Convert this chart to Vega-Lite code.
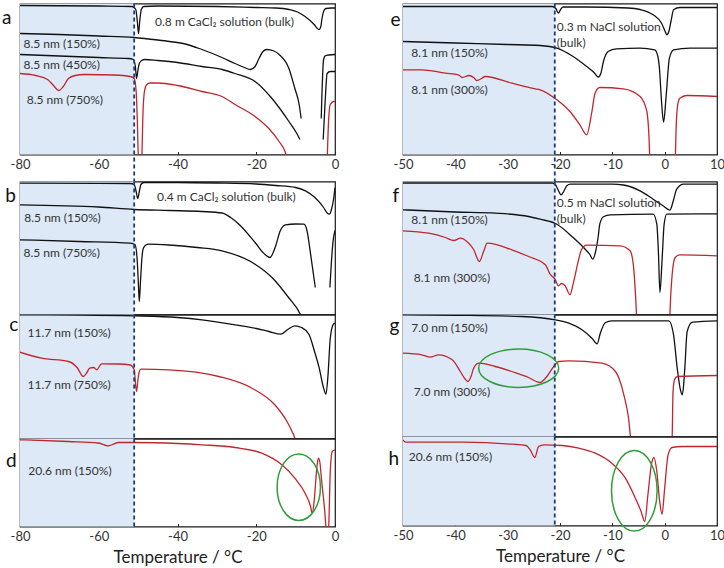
{
  "$schema": "https://vega.github.io/schema/vega-lite/v6.json",
  "padding": {"left": 0, "top": 1.5, "right": 0, "bottom": 0},
  "background": "white",
  "config": {
    "font": "Lato",
    "view": {"stroke": "#1a1a1a", "strokeWidth": 1.2},
    "axis": {"grid": false, "domain": false, "zindex": 1, "labelFont": "Lato", "labelFontSize": 13, "labelColor": "#333", "tickColor": "#222", "tickWidth": 1, "titleFont": "Lato", "titleFontWeight": "normal"}
  },
  "datasets": {
    "curves": [
      {"panel":"a","trace":"a-bulk","seg":1,"T":-80,"hf":4},{"panel":"a","trace":"a-bulk","seg":1,"T":-60,"hf":4.5},{"panel":"a","trace":"a-bulk","seg":1,"T":-51.5,"hf":5},{"panel":"a","trace":"a-bulk","seg":1,"T":-50.6,"hf":8},{"panel":"a","trace":"a-bulk","seg":1,"T":-50.2,"hf":20},{"panel":"a","trace":"a-bulk","seg":1,"T":-49.9,"hf":32},{"panel":"a","trace":"a-bulk","seg":1,"T":-49.6,"hf":20},{"panel":"a","trace":"a-bulk","seg":1,"T":-49.2,"hf":8},{"panel":"a","trace":"a-bulk","seg":1,"T":-48.6,"hf":5},{"panel":"a","trace":"a-bulk","seg":1,"T":-45,"hf":4.5},{"panel":"a","trace":"a-bulk","seg":1,"T":-30,"hf":5},{"panel":"a","trace":"a-bulk","seg":1,"T":-20,"hf":6},{"panel":"a","trace":"a-bulk","seg":1,"T":-15,"hf":6.5},{"panel":"a","trace":"a-bulk","seg":1,"T":-11.7,"hf":8},{"panel":"a","trace":"a-bulk","seg":1,"T":-9.5,"hf":10.5},{"panel":"a","trace":"a-bulk","seg":1,"T":-7.6,"hf":15},{"panel":"a","trace":"a-bulk","seg":1,"T":-5.3,"hf":23},{"panel":"a","trace":"a-bulk","seg":1,"T":-4.6,"hf":26.5},{"panel":"a","trace":"a-bulk","seg":1,"T":-4.0,"hf":28},{"panel":"a","trace":"a-bulk","seg":1,"T":-3.6,"hf":25},{"panel":"a","trace":"a-bulk","seg":1,"T":-3.3,"hf":17},{"panel":"a","trace":"a-bulk","seg":1,"T":-2.8,"hf":9},{"panel":"a","trace":"a-bulk","seg":1,"T":-2.3,"hf":7},{"panel":"a","trace":"a-bulk","seg":1,"T":-1,"hf":6.5},{"panel":"a","trace":"a-bulk","seg":1,"T":0,"hf":6.5},

      {"panel":"a","trace":"a-150","seg":1,"T":-80,"hf":32},{"panel":"a","trace":"a-150","seg":1,"T":-70,"hf":33},{"panel":"a","trace":"a-150","seg":1,"T":-60,"hf":34.5},{"panel":"a","trace":"a-150","seg":1,"T":-51,"hf":36},{"panel":"a","trace":"a-150","seg":1,"T":-45,"hf":38.5},{"panel":"a","trace":"a-150","seg":1,"T":-42,"hf":40},{"panel":"a","trace":"a-150","seg":1,"T":-38,"hf":42.5},{"panel":"a","trace":"a-150","seg":1,"T":-33.8,"hf":48},{"panel":"a","trace":"a-150","seg":1,"T":-28.7,"hf":56},{"panel":"a","trace":"a-150","seg":1,"T":-25.4,"hf":62},{"panel":"a","trace":"a-150","seg":1,"T":-23,"hf":66},{"panel":"a","trace":"a-150","seg":1,"T":-21.5,"hf":68},{"panel":"a","trace":"a-150","seg":1,"T":-20.3,"hf":65},{"panel":"a","trace":"a-150","seg":1,"T":-19.3,"hf":57},{"panel":"a","trace":"a-150","seg":1,"T":-18.3,"hf":50},{"panel":"a","trace":"a-150","seg":1,"T":-17.3,"hf":48},{"panel":"a","trace":"a-150","seg":1,"T":-15.5,"hf":49.5},{"panel":"a","trace":"a-150","seg":1,"T":-14.2,"hf":53},{"panel":"a","trace":"a-150","seg":1,"T":-11.7,"hf":67},{"panel":"a","trace":"a-150","seg":1,"T":-10.2,"hf":87},{"panel":"a","trace":"a-150","seg":1,"T":-9.1,"hf":103},{"panel":"a","trace":"a-150","seg":1,"T":-8.6,"hf":117},
      {"panel":"a","trace":"a-150","seg":2,"T":-3.5,"hf":117},{"panel":"a","trace":"a-150","seg":2,"T":-2.9,"hf":58},{"panel":"a","trace":"a-150","seg":2,"T":-2.5,"hf":54.3},{"panel":"a","trace":"a-150","seg":2,"T":-1.5,"hf":53.5},{"panel":"a","trace":"a-150","seg":2,"T":0,"hf":53},

      {"panel":"a","trace":"a-450","seg":1,"T":-80,"hf":53},{"panel":"a","trace":"a-450","seg":1,"T":-70,"hf":54.5},{"panel":"a","trace":"a-450","seg":1,"T":-60,"hf":56},{"panel":"a","trace":"a-450","seg":1,"T":-52.5,"hf":57},{"panel":"a","trace":"a-450","seg":1,"T":-51.2,"hf":58},{"panel":"a","trace":"a-450","seg":1,"T":-50.7,"hf":65},{"panel":"a","trace":"a-450","seg":1,"T":-50.4,"hf":77},{"panel":"a","trace":"a-450","seg":1,"T":-50.1,"hf":70},{"panel":"a","trace":"a-450","seg":1,"T":-49.7,"hf":62},{"panel":"a","trace":"a-450","seg":1,"T":-49.1,"hf":59},{"panel":"a","trace":"a-450","seg":1,"T":-48.3,"hf":58},{"panel":"a","trace":"a-450","seg":1,"T":-45,"hf":59},{"panel":"a","trace":"a-450","seg":1,"T":-40,"hf":61},{"panel":"a","trace":"a-450","seg":1,"T":-33.8,"hf":65},{"panel":"a","trace":"a-450","seg":1,"T":-28.7,"hf":68},{"panel":"a","trace":"a-450","seg":1,"T":-25.4,"hf":72},{"panel":"a","trace":"a-450","seg":1,"T":-20.3,"hf":80},{"panel":"a","trace":"a-450","seg":1,"T":-16,"hf":97},{"panel":"a","trace":"a-450","seg":1,"T":-11.7,"hf":120},{"panel":"a","trace":"a-450","seg":1,"T":-9.7,"hf":132},{"panel":"a","trace":"a-450","seg":1,"T":-8.9,"hf":138},
      {"panel":"a","trace":"a-450","seg":2,"T":-3.0,"hf":138},{"panel":"a","trace":"a-450","seg":2,"T":-2.5,"hf":100},{"panel":"a","trace":"a-450","seg":2,"T":-2.0,"hf":72},{"panel":"a","trace":"a-450","seg":2,"T":-1.2,"hf":70},{"panel":"a","trace":"a-450","seg":2,"T":0,"hf":70},

      {"panel":"a","trace":"a-750","seg":1,"T":-80,"hf":72},{"panel":"a","trace":"a-750","seg":1,"T":-76,"hf":74},{"panel":"a","trace":"a-750","seg":1,"T":-73,"hf":78},{"panel":"a","trace":"a-750","seg":1,"T":-71.5,"hf":84},{"panel":"a","trace":"a-750","seg":1,"T":-70.2,"hf":89},{"panel":"a","trace":"a-750","seg":1,"T":-69,"hf":85},{"panel":"a","trace":"a-750","seg":1,"T":-67.7,"hf":77},{"panel":"a","trace":"a-750","seg":1,"T":-66,"hf":74},{"panel":"a","trace":"a-750","seg":1,"T":-63.6,"hf":73},{"panel":"a","trace":"a-750","seg":1,"T":-56,"hf":73.5},{"panel":"a","trace":"a-750","seg":1,"T":-52,"hf":75},{"panel":"a","trace":"a-750","seg":1,"T":-51,"hf":77},{"panel":"a","trace":"a-750","seg":1,"T":-50.5,"hf":90},{"panel":"a","trace":"a-750","seg":1,"T":-50.2,"hf":120},{"panel":"a","trace":"a-750","seg":1,"T":-49.9,"hf":165},{"panel":"a","trace":"a-750","seg":1,"T":-49.5,"hf":200},{"panel":"a","trace":"a-750","seg":1,"T":-49.1,"hf":165},{"panel":"a","trace":"a-750","seg":1,"T":-48.8,"hf":115},{"panel":"a","trace":"a-750","seg":1,"T":-48.4,"hf":90},{"panel":"a","trace":"a-750","seg":1,"T":-47.8,"hf":83},{"panel":"a","trace":"a-750","seg":1,"T":-47,"hf":81.5},{"panel":"a","trace":"a-750","seg":1,"T":-45,"hf":81.5},{"panel":"a","trace":"a-750","seg":1,"T":-40,"hf":84},{"panel":"a","trace":"a-750","seg":1,"T":-33.8,"hf":90},{"panel":"a","trace":"a-750","seg":1,"T":-28.7,"hf":95},{"panel":"a","trace":"a-750","seg":1,"T":-25.4,"hf":103},{"panel":"a","trace":"a-750","seg":1,"T":-20.3,"hf":115},{"panel":"a","trace":"a-750","seg":1,"T":-16.8,"hf":127},{"panel":"a","trace":"a-750","seg":1,"T":-14.2,"hf":140},{"panel":"a","trace":"a-750","seg":1,"T":-12.7,"hf":150},{"panel":"a","trace":"a-750","seg":1,"T":-12,"hf":160},{"panel":"a","trace":"a-750","seg":1,"T":-7,"hf":200},{"panel":"a","trace":"a-750","seg":1,"T":-2.5,"hf":200},{"panel":"a","trace":"a-750","seg":1,"T":-2.0,"hf":160},{"panel":"a","trace":"a-750","seg":1,"T":-1.7,"hf":125},{"panel":"a","trace":"a-750","seg":1,"T":-1.2,"hf":103},{"panel":"a","trace":"a-750","seg":1,"T":-0.3,"hf":100},{"panel":"a","trace":"a-750","seg":1,"T":0,"hf":100},

      {"panel":"b","trace":"b-bulk","seg":1,"T":-80,"hf":181.7},{"panel":"b","trace":"b-bulk","seg":1,"T":-60,"hf":181.8},{"panel":"b","trace":"b-bulk","seg":1,"T":-52,"hf":182},{"panel":"b","trace":"b-bulk","seg":1,"T":-51,"hf":183},{"panel":"b","trace":"b-bulk","seg":1,"T":-50.5,"hf":190},{"panel":"b","trace":"b-bulk","seg":1,"T":-50.1,"hf":197},{"panel":"b","trace":"b-bulk","seg":1,"T":-49.7,"hf":190},{"panel":"b","trace":"b-bulk","seg":1,"T":-49.3,"hf":183},{"panel":"b","trace":"b-bulk","seg":1,"T":-48.5,"hf":181},{"panel":"b","trace":"b-bulk","seg":1,"T":-40,"hf":181},{"panel":"b","trace":"b-bulk","seg":1,"T":-30,"hf":181.5},{"panel":"b","trace":"b-bulk","seg":1,"T":-20,"hf":182.5},{"panel":"b","trace":"b-bulk","seg":1,"T":-15,"hf":184},{"panel":"b","trace":"b-bulk","seg":1,"T":-10,"hf":186},{"panel":"b","trace":"b-bulk","seg":1,"T":-7.5,"hf":189.3},{"panel":"b","trace":"b-bulk","seg":1,"T":-5.1,"hf":196},{"panel":"b","trace":"b-bulk","seg":1,"T":-2.9,"hf":206},{"panel":"b","trace":"b-bulk","seg":1,"T":-2.0,"hf":211.5},{"panel":"b","trace":"b-bulk","seg":1,"T":-1.4,"hf":212.7},{"panel":"b","trace":"b-bulk","seg":1,"T":-0.9,"hf":208},{"panel":"b","trace":"b-bulk","seg":1,"T":-0.3,"hf":196},{"panel":"b","trace":"b-bulk","seg":1,"T":0,"hf":186},

      {"panel":"b","trace":"b-150","seg":1,"T":-80,"hf":203.3},{"panel":"b","trace":"b-150","seg":1,"T":-60,"hf":205.5},{"panel":"b","trace":"b-150","seg":1,"T":-51,"hf":208},{"panel":"b","trace":"b-150","seg":1,"T":-42,"hf":209},{"panel":"b","trace":"b-150","seg":1,"T":-33.8,"hf":210},{"panel":"b","trace":"b-150","seg":1,"T":-28.7,"hf":211.5},{"panel":"b","trace":"b-150","seg":1,"T":-26.5,"hf":216},{"panel":"b","trace":"b-150","seg":1,"T":-24.4,"hf":222.7},{"panel":"b","trace":"b-150","seg":1,"T":-20.3,"hf":241},{"panel":"b","trace":"b-150","seg":1,"T":-18.3,"hf":251},{"panel":"b","trace":"b-150","seg":1,"T":-16.5,"hf":256},{"panel":"b","trace":"b-150","seg":1,"T":-15.2,"hf":246},{"panel":"b","trace":"b-150","seg":1,"T":-13.9,"hf":229.3},{"panel":"b","trace":"b-150","seg":1,"T":-12.6,"hf":223.3},{"panel":"b","trace":"b-150","seg":1,"T":-10,"hf":222.5},{"panel":"b","trace":"b-150","seg":1,"T":-7.9,"hf":222.7},{"panel":"b","trace":"b-150","seg":1,"T":-7.1,"hf":229.3},{"panel":"b","trace":"b-150","seg":1,"T":-6.2,"hf":252.7},{"panel":"b","trace":"b-150","seg":1,"T":-5.0,"hf":286},
      {"panel":"b","trace":"b-150","seg":2,"T":-1.3,"hf":286},{"panel":"b","trace":"b-150","seg":2,"T":-0.9,"hf":260},{"panel":"b","trace":"b-150","seg":2,"T":-0.5,"hf":240},{"panel":"b","trace":"b-150","seg":2,"T":0,"hf":229},

      {"panel":"b","trace":"b-750","seg":1,"T":-80,"hf":238.3},{"panel":"b","trace":"b-750","seg":1,"T":-65,"hf":240},{"panel":"b","trace":"b-750","seg":1,"T":-52,"hf":241.7},{"panel":"b","trace":"b-750","seg":1,"T":-50.8,"hf":243},{"panel":"b","trace":"b-750","seg":1,"T":-50.3,"hf":255},{"panel":"b","trace":"b-750","seg":1,"T":-49.9,"hf":285},{"panel":"b","trace":"b-750","seg":1,"T":-49.7,"hf":300},{"panel":"b","trace":"b-750","seg":1,"T":-49.4,"hf":280},{"panel":"b","trace":"b-750","seg":1,"T":-49.0,"hf":255},{"panel":"b","trace":"b-750","seg":1,"T":-48.7,"hf":247},{"panel":"b","trace":"b-750","seg":1,"T":-48.0,"hf":243.5},{"panel":"b","trace":"b-750","seg":1,"T":-47.4,"hf":242.7},{"panel":"b","trace":"b-750","seg":1,"T":-42.2,"hf":243.5},{"panel":"b","trace":"b-750","seg":1,"T":-35,"hf":246},{"panel":"b","trace":"b-750","seg":1,"T":-28.7,"hf":249.3},{"panel":"b","trace":"b-750","seg":1,"T":-20.3,"hf":262.7},{"panel":"b","trace":"b-750","seg":1,"T":-16,"hf":276},{"panel":"b","trace":"b-750","seg":1,"T":-11.8,"hf":296},{"panel":"b","trace":"b-750","seg":1,"T":-8.8,"hf":312.7},{"panel":"b","trace":"b-750","seg":1,"T":-8,"hf":320},

      {"panel":"c","trace":"c-150","seg":1,"T":-80,"hf":313.3},{"panel":"c","trace":"c-150","seg":1,"T":-65,"hf":313.5},{"panel":"c","trace":"c-150","seg":1,"T":-51,"hf":314.3},{"panel":"c","trace":"c-150","seg":1,"T":-40,"hf":316},{"panel":"c","trace":"c-150","seg":1,"T":-33.8,"hf":318.3},{"panel":"c","trace":"c-150","seg":1,"T":-25.4,"hf":323.3},{"panel":"c","trace":"c-150","seg":1,"T":-20,"hf":327},{"panel":"c","trace":"c-150","seg":1,"T":-16.8,"hf":330},{"panel":"c","trace":"c-150","seg":1,"T":-13.7,"hf":332.7},{"panel":"c","trace":"c-150","seg":1,"T":-12,"hf":328},{"panel":"c","trace":"c-150","seg":1,"T":-10.2,"hf":324.3},{"panel":"c","trace":"c-150","seg":1,"T":-8.5,"hf":326},{"panel":"c","trace":"c-150","seg":1,"T":-6.6,"hf":333},{"panel":"c","trace":"c-150","seg":1,"T":-5.2,"hf":350},{"panel":"c","trace":"c-150","seg":1,"T":-4.0,"hf":366.7},{"panel":"c","trace":"c-150","seg":1,"T":-3.0,"hf":385},{"panel":"c","trace":"c-150","seg":1,"T":-2.3,"hf":392.7},{"panel":"c","trace":"c-150","seg":1,"T":-1.8,"hf":375},{"panel":"c","trace":"c-150","seg":1,"T":-1.2,"hf":336.7},{"panel":"c","trace":"c-150","seg":1,"T":-0.4,"hf":322.7},{"panel":"c","trace":"c-150","seg":1,"T":0,"hf":321.7},

      {"panel":"c","trace":"c-750","seg":1,"T":-80,"hf":350.7},{"panel":"c","trace":"c-750","seg":1,"T":-74.5,"hf":356.7},{"panel":"c","trace":"c-750","seg":1,"T":-67.7,"hf":360},{"panel":"c","trace":"c-750","seg":1,"T":-65.5,"hf":366},{"panel":"c","trace":"c-750","seg":1,"T":-63.9,"hf":375},{"panel":"c","trace":"c-750","seg":1,"T":-63,"hf":371},{"panel":"c","trace":"c-750","seg":1,"T":-62.3,"hf":366.7},{"panel":"c","trace":"c-750","seg":1,"T":-61.3,"hf":366},{"panel":"c","trace":"c-750","seg":1,"T":-60.5,"hf":368.3},{"panel":"c","trace":"c-750","seg":1,"T":-59.3,"hf":362.3},{"panel":"c","trace":"c-750","seg":1,"T":-55,"hf":362.5},{"panel":"c","trace":"c-750","seg":1,"T":-52,"hf":363.5},{"panel":"c","trace":"c-750","seg":1,"T":-51,"hf":368},{"panel":"c","trace":"c-750","seg":1,"T":-50.6,"hf":385},{"panel":"c","trace":"c-750","seg":1,"T":-50.4,"hf":390},{"panel":"c","trace":"c-750","seg":1,"T":-50.1,"hf":380},{"panel":"c","trace":"c-750","seg":1,"T":-49.7,"hf":370},{"panel":"c","trace":"c-750","seg":1,"T":-49.3,"hf":367.7},{"panel":"c","trace":"c-750","seg":1,"T":-42.2,"hf":368.3},{"panel":"c","trace":"c-750","seg":1,"T":-29.5,"hf":375},{"panel":"c","trace":"c-750","seg":1,"T":-21.1,"hf":386.7},{"panel":"c","trace":"c-750","seg":1,"T":-15.3,"hf":403.3},{"panel":"c","trace":"c-750","seg":1,"T":-12.2,"hf":420},{"panel":"c","trace":"c-750","seg":1,"T":-10.9,"hf":430},{"panel":"c","trace":"c-750","seg":1,"T":-10.2,"hf":437},{"panel":"c","trace":"c-750","seg":1,"T":-9.8,"hf":445},

      {"panel":"d","trace":"d-150","seg":1,"T":-80,"hf":438.3},{"panel":"d","trace":"d-150","seg":1,"T":-67.7,"hf":440},{"panel":"d","trace":"d-150","seg":1,"T":-60.1,"hf":441.5},{"panel":"d","trace":"d-150","seg":1,"T":-58.5,"hf":443.5},{"panel":"d","trace":"d-150","seg":1,"T":-57.6,"hf":444.3},{"panel":"d","trace":"d-150","seg":1,"T":-56.5,"hf":443},{"panel":"d","trace":"d-150","seg":1,"T":-55,"hf":441},{"panel":"d","trace":"d-150","seg":1,"T":-51,"hf":441},{"panel":"d","trace":"d-150","seg":1,"T":-40,"hf":442},{"panel":"d","trace":"d-150","seg":1,"T":-33.8,"hf":443.3},{"panel":"d","trace":"d-150","seg":1,"T":-25.4,"hf":446},{"panel":"d","trace":"d-150","seg":1,"T":-18.6,"hf":451.7},{"panel":"d","trace":"d-150","seg":1,"T":-13.5,"hf":463.3},{"panel":"d","trace":"d-150","seg":1,"T":-10.2,"hf":476.7},{"panel":"d","trace":"d-150","seg":1,"T":-7.6,"hf":491.7},{"panel":"d","trace":"d-150","seg":1,"T":-6.2,"hf":505},{"panel":"d","trace":"d-150","seg":1,"T":-5.8,"hf":511.7},{"panel":"d","trace":"d-150","seg":1,"T":-5.3,"hf":500},{"panel":"d","trace":"d-150","seg":1,"T":-4.9,"hf":480},{"panel":"d","trace":"d-150","seg":1,"T":-4.5,"hf":462},{"panel":"d","trace":"d-150","seg":1,"T":-4.2,"hf":456.7},{"panel":"d","trace":"d-150","seg":1,"T":-3.8,"hf":462},{"panel":"d","trace":"d-150","seg":1,"T":-3.5,"hf":475},{"panel":"d","trace":"d-150","seg":1,"T":-2.6,"hf":510},{"panel":"d","trace":"d-150","seg":1,"T":-2.2,"hf":530},{"panel":"d","trace":"d-150","seg":1,"T":-1.9,"hf":535},{"panel":"d","trace":"d-150","seg":1,"T":-1.6,"hf":525},{"panel":"d","trace":"d-150","seg":1,"T":-1.2,"hf":470},{"panel":"d","trace":"d-150","seg":1,"T":-0.7,"hf":450},{"panel":"d","trace":"d-150","seg":1,"T":0,"hf":448.3},

      {"panel":"e","trace":"e-bulk","seg":1,"T":-50,"hf":5},{"panel":"e","trace":"e-bulk","seg":1,"T":-21.5,"hf":5},{"panel":"e","trace":"e-bulk","seg":1,"T":-20.8,"hf":7},{"panel":"e","trace":"e-bulk","seg":1,"T":-20.3,"hf":11.7},{"panel":"e","trace":"e-bulk","seg":1,"T":-19.9,"hf":8},{"panel":"e","trace":"e-bulk","seg":1,"T":-19.4,"hf":5.5},{"panel":"e","trace":"e-bulk","seg":1,"T":-15,"hf":5.5},{"panel":"e","trace":"e-bulk","seg":1,"T":-7,"hf":6.5},{"panel":"e","trace":"e-bulk","seg":1,"T":-4.7,"hf":8},{"panel":"e","trace":"e-bulk","seg":1,"T":-2.2,"hf":13.3},{"panel":"e","trace":"e-bulk","seg":1,"T":-0.6,"hf":21.7},{"panel":"e","trace":"e-bulk","seg":1,"T":0.1,"hf":30},{"panel":"e","trace":"e-bulk","seg":1,"T":0.4,"hf":33.3},{"panel":"e","trace":"e-bulk","seg":1,"T":0.8,"hf":30},{"panel":"e","trace":"e-bulk","seg":1,"T":1.2,"hf":20},{"panel":"e","trace":"e-bulk","seg":1,"T":1.7,"hf":8.3},{"panel":"e","trace":"e-bulk","seg":1,"T":2.9,"hf":6},{"panel":"e","trace":"e-bulk","seg":1,"T":10,"hf":6},

      {"panel":"e","trace":"e-150","seg":1,"T":-50,"hf":40},{"panel":"e","trace":"e-150","seg":1,"T":-40,"hf":41.5},{"panel":"e","trace":"e-150","seg":1,"T":-30,"hf":43},{"panel":"e","trace":"e-150","seg":1,"T":-23.8,"hf":44},{"panel":"e","trace":"e-150","seg":1,"T":-20.6,"hf":46.7},{"panel":"e","trace":"e-150","seg":1,"T":-17.5,"hf":55},{"panel":"e","trace":"e-150","seg":1,"T":-14.9,"hf":65},{"panel":"e","trace":"e-150","seg":1,"T":-13.5,"hf":71},{"panel":"e","trace":"e-150","seg":1,"T":-12.7,"hf":75.5},{"panel":"e","trace":"e-150","seg":1,"T":-12.2,"hf":72},{"panel":"e","trace":"e-150","seg":1,"T":-11.7,"hf":60},{"panel":"e","trace":"e-150","seg":1,"T":-10.8,"hf":50},{"panel":"e","trace":"e-150","seg":1,"T":-9.2,"hf":47.3},{"panel":"e","trace":"e-150","seg":1,"T":-4.7,"hf":46.7},{"panel":"e","trace":"e-150","seg":1,"T":-1.9,"hf":48.3},{"panel":"e","trace":"e-150","seg":1,"T":-1.3,"hf":55},{"panel":"e","trace":"e-150","seg":1,"T":-1.0,"hf":66.7},{"panel":"e","trace":"e-150","seg":1,"T":-0.6,"hf":100},{"panel":"e","trace":"e-150","seg":1,"T":-0.2,"hf":120.7},{"panel":"e","trace":"e-150","seg":1,"T":0.2,"hf":100},{"panel":"e","trace":"e-150","seg":1,"T":0.4,"hf":86.7},{"panel":"e","trace":"e-150","seg":1,"T":0.9,"hf":56.7},{"panel":"e","trace":"e-150","seg":1,"T":1.7,"hf":48.3},{"panel":"e","trace":"e-150","seg":1,"T":4.8,"hf":46.7},{"panel":"e","trace":"e-150","seg":1,"T":10,"hf":46.7},

      {"panel":"e","trace":"e-300","seg":1,"T":-50,"hf":68.3},{"panel":"e","trace":"e-300","seg":1,"T":-46.4,"hf":68.3},{"panel":"e","trace":"e-300","seg":1,"T":-41.9,"hf":71.7},{"panel":"e","trace":"e-300","seg":1,"T":-39.4,"hf":73.3},{"panel":"e","trace":"e-300","seg":1,"T":-38.7,"hf":76},{"panel":"e","trace":"e-300","seg":1,"T":-37.4,"hf":74},{"panel":"e","trace":"e-300","seg":1,"T":-36.5,"hf":76},{"panel":"e","trace":"e-300","seg":1,"T":-35.9,"hf":79},{"panel":"e","trace":"e-300","seg":1,"T":-35,"hf":77},{"panel":"e","trace":"e-300","seg":1,"T":-34.3,"hf":75},{"panel":"e","trace":"e-300","seg":1,"T":-29.2,"hf":81.7},{"panel":"e","trace":"e-300","seg":1,"T":-24.7,"hf":87.3},{"panel":"e","trace":"e-300","seg":1,"T":-23.8,"hf":88.3},{"panel":"e","trace":"e-300","seg":1,"T":-20.6,"hf":98.3},{"panel":"e","trace":"e-300","seg":1,"T":-18.1,"hf":110},{"panel":"e","trace":"e-300","seg":1,"T":-16.2,"hf":123.3},{"panel":"e","trace":"e-300","seg":1,"T":-14.9,"hf":133.3},{"panel":"e","trace":"e-300","seg":1,"T":-13.9,"hf":110},{"panel":"e","trace":"e-300","seg":1,"T":-13.3,"hf":91.7},{"panel":"e","trace":"e-300","seg":1,"T":-12.4,"hf":86},{"panel":"e","trace":"e-300","seg":1,"T":-7.9,"hf":87.3},{"panel":"e","trace":"e-300","seg":1,"T":-4.7,"hf":95},{"panel":"e","trace":"e-300","seg":1,"T":-3.4,"hf":110},{"panel":"e","trace":"e-300","seg":1,"T":-3.0,"hf":135},{"panel":"e","trace":"e-300","seg":1,"T":-2.8,"hf":160},{"panel":"e","trace":"e-300","seg":1,"T":0,"hf":200},{"panel":"e","trace":"e-300","seg":1,"T":2.0,"hf":160},{"panel":"e","trace":"e-300","seg":1,"T":2.2,"hf":125},{"panel":"e","trace":"e-300","seg":1,"T":2.5,"hf":103},{"panel":"e","trace":"e-300","seg":1,"T":2.9,"hf":96.7},{"panel":"e","trace":"e-300","seg":1,"T":4.2,"hf":94},{"panel":"e","trace":"e-300","seg":1,"T":10,"hf":95},

      {"panel":"f","trace":"f-bulk","seg":1,"T":-50,"hf":181.5},{"panel":"f","trace":"f-bulk","seg":1,"T":-21.5,"hf":181.5},{"panel":"f","trace":"f-bulk","seg":1,"T":-20.9,"hf":183},{"panel":"f","trace":"f-bulk","seg":1,"T":-20.4,"hf":188},{"panel":"f","trace":"f-bulk","seg":1,"T":-19.8,"hf":193.3},{"panel":"f","trace":"f-bulk","seg":1,"T":-19.3,"hf":190},{"panel":"f","trace":"f-bulk","seg":1,"T":-18.7,"hf":184.3},{"panel":"f","trace":"f-bulk","seg":1,"T":-18,"hf":182.7},{"panel":"f","trace":"f-bulk","seg":1,"T":-10,"hf":182.7},{"panel":"f","trace":"f-bulk","seg":1,"T":-7.9,"hf":183.5},{"panel":"f","trace":"f-bulk","seg":1,"T":-4.7,"hf":189.3},{"panel":"f","trace":"f-bulk","seg":1,"T":-2.2,"hf":197.7},{"panel":"f","trace":"f-bulk","seg":1,"T":-0.3,"hf":204.3},{"panel":"f","trace":"f-bulk","seg":1,"T":1.0,"hf":208.7},{"panel":"f","trace":"f-bulk","seg":1,"T":1.65,"hf":199.3},{"panel":"f","trace":"f-bulk","seg":1,"T":2.3,"hf":187.7},{"panel":"f","trace":"f-bulk","seg":1,"T":3.6,"hf":182.7},{"panel":"f","trace":"f-bulk","seg":1,"T":10,"hf":182.7},

      {"panel":"f","trace":"f-150","seg":1,"T":-50,"hf":208.3},{"panel":"f","trace":"f-150","seg":1,"T":-40,"hf":210.5},{"panel":"f","trace":"f-150","seg":1,"T":-32.3,"hf":211.7},{"panel":"f","trace":"f-150","seg":1,"T":-26,"hf":215},{"panel":"f","trace":"f-150","seg":1,"T":-23.8,"hf":217.7},{"panel":"f","trace":"f-150","seg":1,"T":-20.6,"hf":222.7},{"panel":"f","trace":"f-150","seg":1,"T":-17.5,"hf":236},{"panel":"f","trace":"f-150","seg":1,"T":-15.5,"hf":246},{"panel":"f","trace":"f-150","seg":1,"T":-14.3,"hf":253},{"panel":"f","trace":"f-150","seg":1,"T":-13.75,"hf":257.7},{"panel":"f","trace":"f-150","seg":1,"T":-13.2,"hf":250},{"panel":"f","trace":"f-150","seg":1,"T":-12.7,"hf":235},{"panel":"f","trace":"f-150","seg":1,"T":-12.4,"hf":222.7},{"panel":"f","trace":"f-150","seg":1,"T":-11.7,"hf":215.3},{"panel":"f","trace":"f-150","seg":1,"T":-10.4,"hf":213.3},{"panel":"f","trace":"f-150","seg":1,"T":-2.2,"hf":212.7},{"panel":"f","trace":"f-150","seg":1,"T":-1.5,"hf":222.7},{"panel":"f","trace":"f-150","seg":1,"T":-1.2,"hf":250},{"panel":"f","trace":"f-150","seg":1,"T":-0.9,"hf":291},{"panel":"f","trace":"f-150","seg":1,"T":-0.5,"hf":259},{"panel":"f","trace":"f-150","seg":1,"T":-0.1,"hf":222.7},{"panel":"f","trace":"f-150","seg":1,"T":0.4,"hf":212.7},{"panel":"f","trace":"f-150","seg":1,"T":10,"hf":212.3},

      {"panel":"f","trace":"f-300","seg":1,"T":-50,"hf":229.3},{"panel":"f","trace":"f-300","seg":1,"T":-45.1,"hf":231.7},{"panel":"f","trace":"f-300","seg":1,"T":-41.9,"hf":236},{"panel":"f","trace":"f-300","seg":1,"T":-40.3,"hf":239},{"panel":"f","trace":"f-300","seg":1,"T":-39.0,"hf":236.7},{"panel":"f","trace":"f-300","seg":1,"T":-37.8,"hf":240},{"panel":"f","trace":"f-300","seg":1,"T":-36.5,"hf":248},{"panel":"f","trace":"f-300","seg":1,"T":-35.4,"hf":260},{"panel":"f","trace":"f-300","seg":1,"T":-34.6,"hf":250},{"panel":"f","trace":"f-300","seg":1,"T":-33.9,"hf":241.7},{"panel":"f","trace":"f-300","seg":1,"T":-29.2,"hf":248.3},{"panel":"f","trace":"f-300","seg":1,"T":-26.0,"hf":255},{"panel":"f","trace":"f-300","seg":1,"T":-22.8,"hf":263.3},{"panel":"f","trace":"f-300","seg":1,"T":-21.9,"hf":272.7},{"panel":"f","trace":"f-300","seg":1,"T":-20.95,"hf":277.7},{"panel":"f","trace":"f-300","seg":1,"T":-20.3,"hf":284.3},{"panel":"f","trace":"f-300","seg":1,"T":-19.7,"hf":282},{"panel":"f","trace":"f-300","seg":1,"T":-19.0,"hf":284.3},{"panel":"f","trace":"f-300","seg":1,"T":-18.1,"hf":293.3},{"panel":"f","trace":"f-300","seg":1,"T":-17.5,"hf":282.7},{"panel":"f","trace":"f-300","seg":1,"T":-16.5,"hf":259.3},{"panel":"f","trace":"f-300","seg":1,"T":-15.85,"hf":247.7},{"panel":"f","trace":"f-300","seg":1,"T":-14.9,"hf":243.7},{"panel":"f","trace":"f-300","seg":1,"T":-8.5,"hf":244.3},{"panel":"f","trace":"f-300","seg":1,"T":-6.6,"hf":249.3},{"panel":"f","trace":"f-300","seg":1,"T":-6.0,"hf":262.7},{"panel":"f","trace":"f-300","seg":1,"T":-5.5,"hf":300},{"panel":"f","trace":"f-300","seg":1,"T":-5.3,"hf":320},{"panel":"f","trace":"f-300","seg":1,"T":-2,"hf":360},{"panel":"f","trace":"f-300","seg":1,"T":0.9,"hf":320},{"panel":"f","trace":"f-300","seg":1,"T":1.2,"hf":290},{"panel":"f","trace":"f-300","seg":1,"T":1.5,"hf":269.3},{"panel":"f","trace":"f-300","seg":1,"T":2.0,"hf":256},{"panel":"f","trace":"f-300","seg":1,"T":2.9,"hf":253.3},{"panel":"f","trace":"f-300","seg":1,"T":10,"hf":254.3},

      {"panel":"g","trace":"g-150","seg":1,"T":-50,"hf":313.3},{"panel":"g","trace":"g-150","seg":1,"T":-40,"hf":313.8},{"panel":"g","trace":"g-150","seg":1,"T":-27.3,"hf":315},{"panel":"g","trace":"g-150","seg":1,"T":-20.9,"hf":318.3},{"panel":"g","trace":"g-150","seg":1,"T":-18.3,"hf":321.7},{"panel":"g","trace":"g-150","seg":1,"T":-15.8,"hf":328.3},{"panel":"g","trace":"g-150","seg":1,"T":-13.9,"hf":336.7},{"panel":"g","trace":"g-150","seg":1,"T":-12.9,"hf":342.3},{"panel":"g","trace":"g-150","seg":1,"T":-12.3,"hf":331.7},{"panel":"g","trace":"g-150","seg":1,"T":-11.3,"hf":321},{"panel":"g","trace":"g-150","seg":1,"T":-10.1,"hf":319.3},{"panel":"g","trace":"g-150","seg":1,"T":0.8,"hf":319.3},{"panel":"g","trace":"g-150","seg":1,"T":1.7,"hf":333.3},{"panel":"g","trace":"g-150","seg":1,"T":2.4,"hf":366.7},{"panel":"g","trace":"g-150","seg":1,"T":3.0,"hf":388},{"panel":"g","trace":"g-150","seg":1,"T":3.35,"hf":393.3},{"panel":"g","trace":"g-150","seg":1,"T":3.6,"hf":385},{"panel":"g","trace":"g-150","seg":1,"T":3.85,"hf":366.7},{"panel":"g","trace":"g-150","seg":1,"T":4.3,"hf":330},{"panel":"g","trace":"g-150","seg":1,"T":5.3,"hf":320.7},{"panel":"g","trace":"g-150","seg":1,"T":10,"hf":319.3},

      {"panel":"g","trace":"g-300","seg":1,"T":-50,"hf":351.7},{"panel":"g","trace":"g-300","seg":1,"T":-46.4,"hf":353.3},{"panel":"g","trace":"g-300","seg":1,"T":-44.8,"hf":355.7},{"panel":"g","trace":"g-300","seg":1,"T":-43.2,"hf":353.3},{"panel":"g","trace":"g-300","seg":1,"T":-40.6,"hf":358.3},{"panel":"g","trace":"g-300","seg":1,"T":-39.05,"hf":370},{"panel":"g","trace":"g-300","seg":1,"T":-38.2,"hf":377},{"panel":"g","trace":"g-300","seg":1,"T":-37.6,"hf":380},{"panel":"g","trace":"g-300","seg":1,"T":-37.0,"hf":375},{"panel":"g","trace":"g-300","seg":1,"T":-36.5,"hf":366.7},{"panel":"g","trace":"g-300","seg":1,"T":-35.5,"hf":361.7},{"panel":"g","trace":"g-300","seg":1,"T":-32.4,"hf":365},{"panel":"g","trace":"g-300","seg":1,"T":-29.2,"hf":370},{"panel":"g","trace":"g-300","seg":1,"T":-26.0,"hf":376},{"panel":"g","trace":"g-300","seg":1,"T":-24.5,"hf":380},{"panel":"g","trace":"g-300","seg":1,"T":-23.8,"hf":381},{"panel":"g","trace":"g-300","seg":1,"T":-23.0,"hf":378},{"panel":"g","trace":"g-300","seg":1,"T":-22.5,"hf":375},{"panel":"g","trace":"g-300","seg":1,"T":-21.2,"hf":365},{"panel":"g","trace":"g-300","seg":1,"T":-20.2,"hf":360},{"panel":"g","trace":"g-300","seg":1,"T":-18.3,"hf":359.3},{"panel":"g","trace":"g-300","seg":1,"T":-12.0,"hf":361.7},{"panel":"g","trace":"g-300","seg":1,"T":-9.4,"hf":370},{"panel":"g","trace":"g-300","seg":1,"T":-7.8,"hf":393.3},{"panel":"g","trace":"g-300","seg":1,"T":-6.9,"hf":416.7},{"panel":"g","trace":"g-300","seg":1,"T":-6.4,"hf":440},{"panel":"g","trace":"g-300","seg":1,"T":-2.5,"hf":480},{"panel":"g","trace":"g-300","seg":1,"T":1.4,"hf":440},{"panel":"g","trace":"g-300","seg":1,"T":1.6,"hf":390},{"panel":"g","trace":"g-300","seg":1,"T":1.9,"hf":378},{"panel":"g","trace":"g-300","seg":1,"T":2.4,"hf":375},{"panel":"g","trace":"g-300","seg":1,"T":10,"hf":374},

      {"panel":"h","trace":"h-150","seg":1,"T":-50,"hf":438.5},{"panel":"h","trace":"h-150","seg":1,"T":-49.5,"hf":440.7},{"panel":"h","trace":"h-150","seg":1,"T":-38.7,"hf":440.7},{"panel":"h","trace":"h-150","seg":1,"T":-29.2,"hf":442.7},{"panel":"h","trace":"h-150","seg":1,"T":-26.5,"hf":444},{"panel":"h","trace":"h-150","seg":1,"T":-25.7,"hf":448.3},{"panel":"h","trace":"h-150","seg":1,"T":-24.8,"hf":456},{"panel":"h","trace":"h-150","seg":1,"T":-24.1,"hf":445},{"panel":"h","trace":"h-150","seg":1,"T":-23.1,"hf":443.3},{"panel":"h","trace":"h-150","seg":1,"T":-19.6,"hf":444},{"panel":"h","trace":"h-150","seg":1,"T":-16.4,"hf":446.7},{"panel":"h","trace":"h-150","seg":1,"T":-13.25,"hf":451.7},{"panel":"h","trace":"h-150","seg":1,"T":-10.1,"hf":461.7},{"panel":"h","trace":"h-150","seg":1,"T":-7.5,"hf":476.7},{"panel":"h","trace":"h-150","seg":1,"T":-5.6,"hf":496.7},{"panel":"h","trace":"h-150","seg":1,"T":-4.5,"hf":510},{"panel":"h","trace":"h-150","seg":1,"T":-3.8,"hf":520},{"panel":"h","trace":"h-150","seg":1,"T":-3.2,"hf":493.3},{"panel":"h","trace":"h-150","seg":1,"T":-2.55,"hf":463.3},{"panel":"h","trace":"h-150","seg":1,"T":-2.05,"hf":456},{"panel":"h","trace":"h-150","seg":1,"T":-1.5,"hf":470},{"panel":"h","trace":"h-150","seg":1,"T":-0.95,"hf":500},{"panel":"h","trace":"h-150","seg":1,"T":-0.5,"hf":512.7},{"panel":"h","trace":"h-150","seg":1,"T":0.0,"hf":486.7},{"panel":"h","trace":"h-150","seg":1,"T":0.65,"hf":453.3},{"panel":"h","trace":"h-150","seg":1,"T":1.4,"hf":446},{"panel":"h","trace":"h-150","seg":1,"T":3.35,"hf":445},{"panel":"h","trace":"h-150","seg":1,"T":10,"hf":445}
    ],
    "notes": [
      {"panel":"a","T":-45.7,"hf":20,"text":"0.8 m CaCl₂ solution (bulk)"},
      {"panel":"a","T":-79.1,"hf":42,"text":"8.5 nm (150%)"},
      {"panel":"a","T":-79.1,"hf":63,"text":"8.5 nm (450%)"},
      {"panel":"a","T":-78.3,"hf":98,"text":"8.5 nm (750%)"},
      {"panel":"b","T":-45.2,"hf":195,"text":"0.4 m CaCl₂ solution (bulk)"},
      {"panel":"b","T":-78.9,"hf":216,"text":"8.5 nm (150%)"},
      {"panel":"b","T":-79.1,"hf":251,"text":"8.5 nm (750%)"},
      {"panel":"c","T":-78.1,"hf":331,"text":"11.7 nm (150%)"},
      {"panel":"c","T":-78.1,"hf":383.3,"text":"11.7 nm (750%)"},
      {"panel":"d","T":-77.9,"hf":469.3,"text":"20.6 nm (150%)"},
      {"panel":"e","T":-20.6,"hf":25,"text":"0.3 m NaCl solution"},
      {"panel":"e","T":-20.6,"hf":41.7,"text":"(bulk)"},
      {"panel":"e","T":-48.4,"hf":51.7,"text":"8.1 nm (150%)"},
      {"panel":"e","T":-48.4,"hf":88.3,"text":"8.1 nm (300%)"},
      {"panel":"f","T":-20.6,"hf":201,"text":"0.5 m NaCl solution"},
      {"panel":"f","T":-20.6,"hf":217.7,"text":"(bulk)"},
      {"panel":"f","T":-48.4,"hf":218.3,"text":"8.1 nm (150%)"},
      {"panel":"f","T":-47.95,"hf":276.7,"text":"8.1 nm (300%)"},
      {"panel":"g","T":-48.4,"hf":326.7,"text":"7.0 nm (150%)"},
      {"panel":"g","T":-47.95,"hf":390.7,"text":"7.0 nm (300%)"},
      {"panel":"h","T":-48.9,"hf":455,"text":"20.6 nm (150%)"}
    ],
    "rings": [
      {"panel":"d","T":-9.2,"hf":485.7},
      {"panel":"g","T":-27.9,"hf":366.7},
      {"panel":"h","T":-5.8,"hf":489.3}
    ]
  },
  "spacing": 47,
  "hconcat": [
    {
      "bounds": "flush",
      "spacing": 27,
      "vconcat": [
        {
          "width": 315, "height": 151,
          "data": {"values": [{}]},
          "layer": [
            {"mark": {"type": "rect", "color": "#dde9f6"},
             "encoding": {
               "x": {"datum": -80, "type": "quantitative", "scale": {"domain": [-80, 0], "nice": false, "zero": false},
                     "axis": {"values": [-80,-70,-60,-50,-40,-30,-20,-10,0], "labelExpr": "datum.value % 20 === 0 ? '' + datum.value : ''", "tickSize": -3, "labelPadding": 7, "labelFlush": false, "labelOverlap": false, "title": null}},
               "x2": {"datum": -51},
               "y": {"datum": 2, "type": "quantitative", "scale": {"domain": [2, 153], "nice": false, "zero": false, "reverse": true},
                     "axis": {"title": "a", "labels": false, "ticks": false, "titleAngle": 0, "titleAlign": "left", "titleBaseline": "alphabetic", "titleX": -18.5, "titleY": 19.7, "titleFontSize": 19, "titleColor": "#111"}},
               "y2": {"datum": 153}}},
            {"data": {"name": "curves"}, "transform": [{"filter": "datum.panel === 'a'"}],
             "mark": {"type": "line", "clip": true, "interpolate": "monotone", "strokeWidth": 1.3},
             "encoding": {"x": {"field": "T", "type": "quantitative"}, "y": {"field": "hf", "type": "quantitative"},
               "detail": [{"field": "trace"}, {"field": "seg"}],
               "color": {"condition": {"test": "indexof(['a-750','c-750','d-150','e-300','f-300','g-300','h-150'], datum.trace) >= 0", "value": "#c0262d"}, "value": "#111"}}},
            {"mark": {"type": "rule", "color": "#1f3b73", "strokeWidth": 1.8, "strokeDash": [4, 3], "clip": false},
             "encoding": {"x": {"datum": -51, "type": "quantitative"}, "y": {"datum": 2, "type": "quantitative"}, "y2": {"datum": 180}}},
            {"data": {"name": "notes"}, "transform": [{"filter": "datum.panel === 'a'"}],
             "mark": {"type": "text", "align": "left", "baseline": "middle", "fontSize": 12, "color": "#333"},
             "encoding": {"x": {"field": "T", "type": "quantitative"}, "y": {"field": "hf", "type": "quantitative"}, "text": {"field": "text"}}}
          ]
        },
        {
          "bounds": "flush",
          "spacing": 0,
          "vconcat": [
            {
              "width": 315, "height": 133,
              "data": {"values": [{}]},
              "layer": [
                {"mark": {"type": "rect", "color": "#dde9f6"},
                 "encoding": {
                   "x": {"datum": -80, "type": "quantitative", "scale": {"domain": [-80, 0], "nice": false, "zero": false}, "axis": null},
                   "x2": {"datum": -51},
                   "y": {"datum": 180, "type": "quantitative", "scale": {"domain": [180, 313], "nice": false, "zero": false, "reverse": true},
                         "axis": {"title": "b", "labels": false, "ticks": false, "titleAngle": 0, "titleAlign": "left", "titleBaseline": "alphabetic", "titleX": -15.2, "titleY": 20, "titleFontSize": 19, "titleColor": "#111"}},
                   "y2": {"datum": 313}}},
                {"data": {"name": "curves"}, "transform": [{"filter": "datum.panel === 'b'"}],
                 "mark": {"type": "line", "clip": true, "interpolate": "monotone", "strokeWidth": 1.3},
                 "encoding": {"x": {"field": "T", "type": "quantitative", "axis": null}, "y": {"field": "hf", "type": "quantitative"},
                   "detail": [{"field": "trace"}, {"field": "seg"}],
                   "color": {"condition": {"test": "indexof(['a-750','c-750','d-150','e-300','f-300','g-300','h-150'], datum.trace) >= 0", "value": "#c0262d"}, "value": "#111"}}},
                {"mark": {"type": "rule", "color": "#1f3b73", "strokeWidth": 1.8, "strokeDash": [4, 3], "clip": false},
                 "encoding": {"x": {"datum": -51, "type": "quantitative", "axis": null}, "y": {"datum": 180, "type": "quantitative"}, "y2": {"datum": 313}}},
                {"data": {"name": "notes"}, "transform": [{"filter": "datum.panel === 'b'"}],
                 "mark": {"type": "text", "align": "left", "baseline": "middle", "fontSize": 12, "color": "#333"},
                 "encoding": {"x": {"field": "T", "type": "quantitative", "axis": null}, "y": {"field": "hf", "type": "quantitative"}, "text": {"field": "text"}}}
              ]
            },
            {
              "width": 315, "height": 124,
              "data": {"values": [{}]},
              "layer": [
                {"mark": {"type": "rect", "color": "#dde9f6"},
                 "encoding": {
                   "x": {"datum": -80, "type": "quantitative", "scale": {"domain": [-80, 0], "nice": false, "zero": false}, "axis": null},
                   "x2": {"datum": -51},
                   "y": {"datum": 313, "type": "quantitative", "scale": {"domain": [313, 437], "nice": false, "zero": false, "reverse": true},
                         "axis": {"title": "c", "labels": false, "ticks": false, "titleAngle": 0, "titleAlign": "left", "titleBaseline": "alphabetic", "titleX": -11.2, "titleY": 16.3, "titleFontSize": 19, "titleColor": "#111"}},
                   "y2": {"datum": 437}}},
                {"data": {"name": "curves"}, "transform": [{"filter": "datum.panel === 'c'"}],
                 "mark": {"type": "line", "clip": true, "interpolate": "monotone", "strokeWidth": 1.3},
                 "encoding": {"x": {"field": "T", "type": "quantitative", "axis": null}, "y": {"field": "hf", "type": "quantitative"},
                   "detail": [{"field": "trace"}, {"field": "seg"}],
                   "color": {"condition": {"test": "indexof(['a-750','c-750','d-150','e-300','f-300','g-300','h-150'], datum.trace) >= 0", "value": "#c0262d"}, "value": "#111"}}},
                {"mark": {"type": "rule", "color": "#1f3b73", "strokeWidth": 1.8, "strokeDash": [4, 3], "clip": false},
                 "encoding": {"x": {"datum": -51, "type": "quantitative", "axis": null}, "y": {"datum": 313, "type": "quantitative"}, "y2": {"datum": 437}}},
                {"data": {"name": "notes"}, "transform": [{"filter": "datum.panel === 'c'"}],
                 "mark": {"type": "text", "align": "left", "baseline": "middle", "fontSize": 12, "color": "#333"},
                 "encoding": {"x": {"field": "T", "type": "quantitative", "axis": null}, "y": {"field": "hf", "type": "quantitative"}, "text": {"field": "text"}}}
              ]
            },
            {
              "width": 315, "height": 88,
              "data": {"values": [{}]},
              "layer": [
                {"mark": {"type": "rect", "color": "#dde9f6"},
                 "encoding": {
                   "x": {"datum": -80, "type": "quantitative", "scale": {"domain": [-80, 0], "nice": false, "zero": false},
                         "axis": {"values": [-80,-70,-60,-50,-40,-30,-20,-10,0], "labelExpr": "datum.value % 20 === 0 ? '' + datum.value : ''", "tickSize": -3, "labelPadding": 7, "labelFlush": false, "labelOverlap": false, "title": "Temperature / °C", "titleFontSize": 17, "titlePadding": 6, "titleColor": "#222"}},
                   "x2": {"datum": -51},
                   "y": {"datum": 437, "type": "quantitative", "scale": {"domain": [437, 525], "nice": false, "zero": false, "reverse": true},
                         "axis": {"title": "d", "labels": false, "ticks": false, "titleAngle": 0, "titleAlign": "left", "titleBaseline": "alphabetic", "titleX": -14.5, "titleY": 28, "titleFontSize": 19, "titleColor": "#111"}},
                   "y2": {"datum": 525}}},
                {"data": {"name": "curves"}, "transform": [{"filter": "datum.panel === 'd'"}],
                 "mark": {"type": "line", "clip": true, "interpolate": "monotone", "strokeWidth": 1.3},
                 "encoding": {"x": {"field": "T", "type": "quantitative"}, "y": {"field": "hf", "type": "quantitative"},
                   "detail": [{"field": "trace"}, {"field": "seg"}],
                   "color": {"condition": {"test": "indexof(['a-750','c-750','d-150','e-300','f-300','g-300','h-150'], datum.trace) >= 0", "value": "#c0262d"}, "value": "#111"}}},
                {"mark": {"type": "rule", "color": "#1f3b73", "strokeWidth": 1.8, "strokeDash": [4, 3], "clip": false},
                 "encoding": {"x": {"datum": -51, "type": "quantitative"}, "y": {"datum": 437, "type": "quantitative"}, "y2": {"datum": 525}}},
                {"data": {"name": "rings"}, "transform": [{"filter": "datum.panel === 'd'"}],
                 "mark": {"type": "point", "filled": false, "stroke": "#2e9e3a", "strokeWidth": 1.5, "opacity": 1, "size": 4436, "shape": "M -0.65 0 A 0.65 1 0 1 0 0.65 0 A 0.65 1 0 1 0 -0.65 0 Z"},
                 "encoding": {"x": {"field": "T", "type": "quantitative"}, "y": {"field": "hf", "type": "quantitative"}}},
                {"data": {"name": "notes"}, "transform": [{"filter": "datum.panel === 'd'"}],
                 "mark": {"type": "text", "align": "left", "baseline": "middle", "fontSize": 12, "color": "#333"},
                 "encoding": {"x": {"field": "T", "type": "quantitative"}, "y": {"field": "hf", "type": "quantitative"}, "text": {"field": "text"}}}
              ]
            }
          ]
        }
      ]
    },
    {
      "bounds": "flush",
      "spacing": 27,
      "vconcat": [
        {
          "width": 314, "height": 151,
          "data": {"values": [{}]},
          "layer": [
            {"mark": {"type": "rect", "color": "#dde9f6"},
             "encoding": {
               "x": {"datum": -50, "type": "quantitative", "scale": {"domain": [-50, 10], "nice": false, "zero": false},
                     "axis": {"values": [-50,-45,-40,-35,-30,-25,-20,-15,-10,-5,0,5,10], "labelExpr": "datum.value % 10 === 0 ? '' + datum.value : ''", "tickSize": -3, "labelPadding": 7, "labelFlush": false, "labelOverlap": false, "title": null}},
               "x2": {"datum": -21},
               "y": {"datum": 2, "type": "quantitative", "scale": {"domain": [2, 153], "nice": false, "zero": false, "reverse": true},
                     "axis": {"title": "e", "labels": false, "ticks": false, "titleAngle": 0, "titleAlign": "left", "titleBaseline": "alphabetic", "titleX": -13, "titleY": 22, "titleFontSize": 19, "titleColor": "#111"}},
               "y2": {"datum": 153}}},
            {"data": {"name": "curves"}, "transform": [{"filter": "datum.panel === 'e'"}],
             "mark": {"type": "line", "clip": true, "interpolate": "monotone", "strokeWidth": 1.3},
             "encoding": {"x": {"field": "T", "type": "quantitative"}, "y": {"field": "hf", "type": "quantitative"},
               "detail": [{"field": "trace"}, {"field": "seg"}],
               "color": {"condition": {"test": "indexof(['a-750','c-750','d-150','e-300','f-300','g-300','h-150'], datum.trace) >= 0", "value": "#c0262d"}, "value": "#111"}}},
            {"mark": {"type": "rule", "color": "#1f3b73", "strokeWidth": 1.8, "strokeDash": [4, 3], "clip": false},
             "encoding": {"x": {"datum": -21, "type": "quantitative"}, "y": {"datum": 2, "type": "quantitative"}, "y2": {"datum": 180}}},
            {"data": {"name": "notes"}, "transform": [{"filter": "datum.panel === 'e'"}],
             "mark": {"type": "text", "align": "left", "baseline": "middle", "fontSize": 12, "color": "#333"},
             "encoding": {"x": {"field": "T", "type": "quantitative"}, "y": {"field": "hf", "type": "quantitative"}, "text": {"field": "text"}}}
          ]
        },
        {
          "bounds": "flush",
          "spacing": 0,
          "vconcat": [
            {
              "width": 314, "height": 133,
              "data": {"values": [{}]},
              "layer": [
                {"mark": {"type": "rect", "color": "#dde9f6"},
                 "encoding": {
                   "x": {"datum": -50, "type": "quantitative", "scale": {"domain": [-50, 10], "nice": false, "zero": false}, "axis": null},
                   "x2": {"datum": -21},
                   "y": {"datum": 180, "type": "quantitative", "scale": {"domain": [180, 313], "nice": false, "zero": false, "reverse": true},
                         "axis": {"title": "f", "labels": false, "ticks": false, "titleAngle": 0, "titleAlign": "left", "titleBaseline": "alphabetic", "titleX": -11, "titleY": 20, "titleFontSize": 19, "titleColor": "#111"}},
                   "y2": {"datum": 313}}},
                {"data": {"name": "curves"}, "transform": [{"filter": "datum.panel === 'f'"}],
                 "mark": {"type": "line", "clip": true, "interpolate": "monotone", "strokeWidth": 1.3},
                 "encoding": {"x": {"field": "T", "type": "quantitative", "axis": null}, "y": {"field": "hf", "type": "quantitative"},
                   "detail": [{"field": "trace"}, {"field": "seg"}],
                   "color": {"condition": {"test": "indexof(['a-750','c-750','d-150','e-300','f-300','g-300','h-150'], datum.trace) >= 0", "value": "#c0262d"}, "value": "#111"}}},
                {"mark": {"type": "rule", "color": "#1f3b73", "strokeWidth": 1.8, "strokeDash": [4, 3], "clip": false},
                 "encoding": {"x": {"datum": -21, "type": "quantitative", "axis": null}, "y": {"datum": 180, "type": "quantitative"}, "y2": {"datum": 313}}},
                {"data": {"name": "notes"}, "transform": [{"filter": "datum.panel === 'f'"}],
                 "mark": {"type": "text", "align": "left", "baseline": "middle", "fontSize": 12, "color": "#333"},
                 "encoding": {"x": {"field": "T", "type": "quantitative", "axis": null}, "y": {"field": "hf", "type": "quantitative"}, "text": {"field": "text"}}}
              ]
            },
            {
              "width": 314, "height": 122,
              "data": {"values": [{}]},
              "layer": [
                {"mark": {"type": "rect", "color": "#dde9f6"},
                 "encoding": {
                   "x": {"datum": -50, "type": "quantitative", "scale": {"domain": [-50, 10], "nice": false, "zero": false}, "axis": null},
                   "x2": {"datum": -21},
                   "y": {"datum": 313, "type": "quantitative", "scale": {"domain": [313, 435], "nice": false, "zero": false, "reverse": true},
                         "axis": {"title": "g", "labels": false, "ticks": false, "titleAngle": 0, "titleAlign": "left", "titleBaseline": "alphabetic", "titleX": -14, "titleY": 17, "titleFontSize": 19, "titleColor": "#111"}},
                   "y2": {"datum": 435}}},
                {"data": {"name": "curves"}, "transform": [{"filter": "datum.panel === 'g'"}],
                 "mark": {"type": "line", "clip": true, "interpolate": "monotone", "strokeWidth": 1.3},
                 "encoding": {"x": {"field": "T", "type": "quantitative", "axis": null}, "y": {"field": "hf", "type": "quantitative"},
                   "detail": [{"field": "trace"}, {"field": "seg"}],
                   "color": {"condition": {"test": "indexof(['a-750','c-750','d-150','e-300','f-300','g-300','h-150'], datum.trace) >= 0", "value": "#c0262d"}, "value": "#111"}}},
                {"mark": {"type": "rule", "color": "#1f3b73", "strokeWidth": 1.8, "strokeDash": [4, 3], "clip": false},
                 "encoding": {"x": {"datum": -21, "type": "quantitative", "axis": null}, "y": {"datum": 313, "type": "quantitative"}, "y2": {"datum": 435}}},
                {"data": {"name": "rings"}, "transform": [{"filter": "datum.panel === 'g'"}],
                 "mark": {"type": "point", "filled": false, "stroke": "#2e9e3a", "strokeWidth": 1.5, "opacity": 1, "size": 6400, "shape": "M -1 0 A 1 0.48 0 1 0 1 0 A 1 0.48 0 1 0 -1 0 Z"},
                 "encoding": {"x": {"field": "T", "type": "quantitative", "axis": null}, "y": {"field": "hf", "type": "quantitative"}}},
                {"data": {"name": "notes"}, "transform": [{"filter": "datum.panel === 'g'"}],
                 "mark": {"type": "text", "align": "left", "baseline": "middle", "fontSize": 12, "color": "#333"},
                 "encoding": {"x": {"field": "T", "type": "quantitative", "axis": null}, "y": {"field": "hf", "type": "quantitative"}, "text": {"field": "text"}}}
              ]
            },
            {
              "width": 314, "height": 89,
              "data": {"values": [{}]},
              "layer": [
                {"mark": {"type": "rect", "color": "#dde9f6"},
                 "encoding": {
                   "x": {"datum": -50, "type": "quantitative", "scale": {"domain": [-50, 10], "nice": false, "zero": false},
                         "axis": {"values": [-50,-45,-40,-35,-30,-25,-20,-15,-10,-5,0,5,10], "labelExpr": "datum.value % 10 === 0 ? '' + datum.value : ''", "tickSize": -3, "labelPadding": 7, "labelFlush": false, "labelOverlap": false, "title": "Temperature / °C", "titleFontSize": 17, "titlePadding": 6, "titleColor": "#222"}},
                   "x2": {"datum": -21},
                   "y": {"datum": 435, "type": "quantitative", "scale": {"domain": [435, 524], "nice": false, "zero": false, "reverse": true},
                         "axis": {"title": "h", "labels": false, "ticks": false, "titleAngle": 0, "titleAlign": "left", "titleBaseline": "alphabetic", "titleX": -15, "titleY": 28.3, "titleFontSize": 19, "titleColor": "#111"}},
                   "y2": {"datum": 524}}},
                {"data": {"name": "curves"}, "transform": [{"filter": "datum.panel === 'h'"}],
                 "mark": {"type": "line", "clip": true, "interpolate": "monotone", "strokeWidth": 1.3},
                 "encoding": {"x": {"field": "T", "type": "quantitative"}, "y": {"field": "hf", "type": "quantitative"},
                   "detail": [{"field": "trace"}, {"field": "seg"}],
                   "color": {"condition": {"test": "indexof(['a-750','c-750','d-150','e-300','f-300','g-300','h-150'], datum.trace) >= 0", "value": "#c0262d"}, "value": "#111"}}},
                {"mark": {"type": "rule", "color": "#1f3b73", "strokeWidth": 1.8, "strokeDash": [4, 3], "clip": false},
                 "encoding": {"x": {"datum": -21, "type": "quantitative"}, "y": {"datum": 435, "type": "quantitative"}, "y2": {"datum": 524}}},
                {"data": {"name": "rings"}, "transform": [{"filter": "datum.panel === 'h'"}],
                 "mark": {"type": "point", "filled": false, "stroke": "#2e9e3a", "strokeWidth": 1.5, "opacity": 1, "size": 6497, "shape": "M -0.566 0 A 0.566 1 0 1 0 0.566 0 A 0.566 1 0 1 0 -0.566 0 Z"},
                 "encoding": {"x": {"field": "T", "type": "quantitative"}, "y": {"field": "hf", "type": "quantitative"}}},
                {"data": {"name": "notes"}, "transform": [{"filter": "datum.panel === 'h'"}],
                 "mark": {"type": "text", "align": "left", "baseline": "middle", "fontSize": 12, "color": "#333"},
                 "encoding": {"x": {"field": "T", "type": "quantitative"}, "y": {"field": "hf", "type": "quantitative"}, "text": {"field": "text"}}}
              ]
            }
          ]
        }
      ]
    }
  ]
}
